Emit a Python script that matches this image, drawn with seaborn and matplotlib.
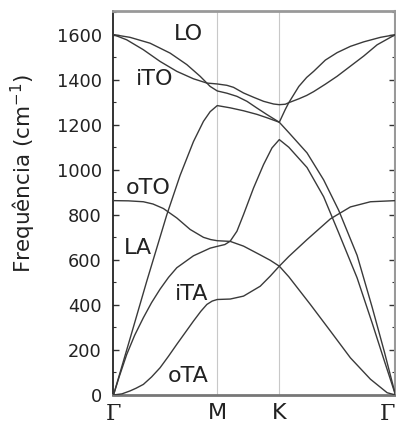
import numpy as np
import pandas as pd
import matplotlib
matplotlib.use("Agg")
import matplotlib.pyplot as plt
import seaborn as sns

# caminho Γ-M-K-Γ (posicoes normalizadas)
sym_labels = ["Γ", "M", "K", "Γ"]
sym_k = [0.0, 0.368, 0.588, 1.0]

# ramos de fonons (cm-1)
lo_k = [0, 0.0586, 0.1297, 0.2007, 0.26, 0.3073, 0.3311, 0.3428, 0.368, 0.4021, 0.4377, 0.4732,
        0.5087, 0.5442, 0.588, 0.6093, 0.6217, 0.6572, 0.685, 0.7098, 0.7513, 0.7929, 0.8401,
        0.8874, 0.9467, 1.0]
lo_f = [1600, 1588, 1562, 1518, 1467, 1415, 1385, 1370, 1350, 1340, 1326, 1304,
        1274, 1245, 1211, 1268, 1298, 1370, 1410, 1437, 1487, 1520, 1548,
        1568, 1588, 1600]

ito_k = [0, 0.0469, 0.1059, 0.1652, 0.2245, 0.2835, 0.3311, 0.368, 0.4021, 0.4256, 0.4611, 0.4966,
         0.5321, 0.5677, 0.588, 0.6093, 0.6217, 0.6572, 0.685, 0.7098, 0.7513, 0.7929, 0.8401,
         0.8874, 0.935, 0.9822, 1.0]
ito_f = [1600, 1577, 1533, 1481, 1437, 1404, 1385, 1381, 1375, 1366, 1341, 1322,
         1304, 1292, 1289, 1291, 1298, 1315, 1330, 1347, 1380, 1415, 1460,
         1505, 1555, 1588, 1600]

la_k = [0, 0.0586, 0.1179, 0.189, 0.2362, 0.2835, 0.319, 0.3428, 0.368, 0.4139, 0.4611, 0.5087,
        0.5442, 0.588, 0.6217, 0.6863, 0.7453, 0.7986, 0.8639, 0.9172, 0.9609, 1.0]
la_f = [0, 250, 505, 800, 975, 1125, 1215, 1258, 1285, 1275, 1262, 1246,
        1231, 1211, 1165, 1075, 955, 820, 620, 390, 190, 0]

ta_k = [0, 0.02, 0.0469, 0.075, 0.1059, 0.135, 0.1652, 0.195, 0.2245, 0.2835, 0.3428, 0.368,
        0.395, 0.4139, 0.4377, 0.4611, 0.4966, 0.5321, 0.562, 0.588, 0.6217, 0.6863, 0.7453,
        0.7986, 0.8639, 0.9172, 0.9609, 1.0]
ta_f = [0, 80, 180, 265, 343, 410, 470, 522, 565, 618, 652, 660,
        668, 683, 727, 801, 919, 1023, 1097, 1134, 1100, 1010, 880,
        720, 520, 320, 150, 0]

zo_k = [0, 0.0529, 0.1059, 0.14, 0.1769, 0.2245, 0.2718, 0.319, 0.345, 0.368, 0.4139, 0.4611,
        0.5204, 0.556, 0.588, 0.6217, 0.6863, 0.7691, 0.8401, 0.9112, 1.0]
zo_f = [863, 862, 858, 848, 828, 786, 735, 700, 690, 685, 682, 661,
        622, 598, 572, 615, 690, 782, 835, 858, 863]

za_k = [0, 0.03, 0.0586, 0.08, 0.1059, 0.135, 0.1652, 0.195, 0.2245, 0.2835, 0.31, 0.3311,
        0.35, 0.368, 0.4139, 0.4611, 0.5204, 0.556, 0.588, 0.6217, 0.6981, 0.7691, 0.8401,
        0.9112, 0.9705, 1.0]
za_f = [0, 5, 18, 30, 47, 80, 121, 172, 225, 328, 372, 402,
        417, 424, 426, 439, 483, 528, 572, 525, 402, 284, 165,
        70, 10, 0]

branches = {"LO": (lo_k, lo_f), "iTO": (ito_k, ito_f), "LA": (la_k, la_f),
            "iTA": (ta_k, ta_f), "oTO": (zo_k, zo_f), "oTA": (za_k, za_f)}

df = pd.concat([pd.DataFrame({"k": k, "freq": f, "ramo": nome})
                for nome, (k, f) in branches.items()], ignore_index=True)

sns.set_style("ticks")
plt.rcParams["font.family"] = ["DejaVu Sans"]
plt.rcParams["mathtext.default"] = "regular"

fig = plt.figure(figsize=(3.96, 4.26), dpi=100)
ax = fig.add_axes([0.2866, 0.0728, 0.7121, 0.9014])

for xk in sym_k[1:3]:
    ax.axvline(xk, color="#c8c8c8", lw=0.8, zorder=1)

sns.lineplot(data=df, x="k", y="freq", units="ramo", estimator=None,
             color="#3a3a3a", lw=1.0, ax=ax, legend=False, zorder=3,
             solid_joinstyle="round")

# rotulos dos ramos
ax.text(0.2647, 1601, "LO", fontsize=16, ha="center", va="center", color="#222222")
ax.text(0.1474, 1401, "iTO", fontsize=16, ha="center", va="center", color="#222222")
ax.text(0.1226, 918, "oTO", fontsize=16, ha="center", va="center", color="#222222")
ax.text(0.087, 652, "LA", fontsize=16, ha="center", va="center", color="#222222")
ax.text(0.2753, 448, "iTA", fontsize=16, ha="center", va="center", color="#222222")
ax.text(0.2647, 84, "oTA", fontsize=16, ha="center", va="center", color="#222222")

ax.set_xlim(0, 1)
ax.set_ylim(0, 1705)
ax.set_yticks(np.arange(0, 1601, 200))
ax.set_yticks(np.arange(0, 1701, 100), minor=True)
ax.set_xticks(sym_k)
ax.set_xticklabels(sym_labels, fontsize=16)
xlabs = ax.get_xticklabels()
for lab, s in zip(xlabs, sym_labels):
    if s == "Γ":
        lab.set_fontfamily("DejaVu Serif")
xlabs[-1].set_horizontalalignment("right")
ax.tick_params(axis="x", length=0, pad=6, colors="#222222")
ax.tick_params(axis="y", which="major", direction="in", length=4.5, width=1,
               labelsize=12.8, pad=8.3, right=True, colors="#333333")
ax.tick_params(axis="y", which="minor", direction="in", length=2.5, width=0.8,
               right=True, colors="#333333")
ax.tick_params(axis="y", labelcolor="#222222")

ax.set_xlabel("")
ax.set_ylabel("Frequência (cm$^{-1}$)", fontsize=15.5, color="#222222")
ax.yaxis.set_label_coords(-0.268, 0.577)

for side, cor, lw in [("left", "#111111", 1.2), ("bottom", "#777777", 2.0),
                      ("top", "#999999", 2.0), ("right", "#999999", 1.5)]:
    ax.spines[side].set_visible(True)
    ax.spines[side].set_color(cor)
    ax.spines[side].set_linewidth(lw)

fig.savefig("out.png", dpi=100)
